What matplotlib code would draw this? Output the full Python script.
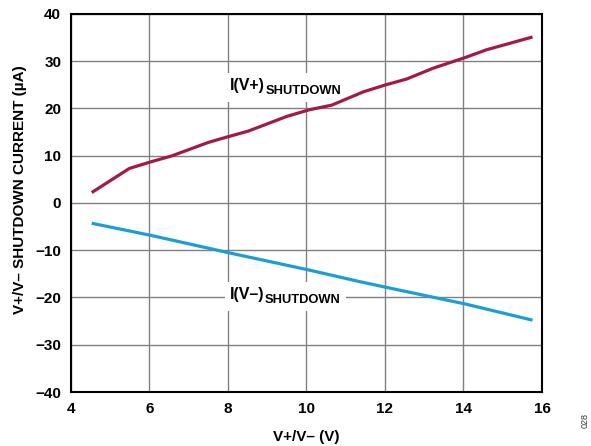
from matplotlib import pyplot as plt
from matplotlib.patches import Rectangle
from matplotlib.transforms import Bbox

plt.rcParams['font.family'] = ['Liberation Sans', 'DejaVu Sans']

# supply voltage (V) and shutdown currents (uA)
vpos_x = [4.53, 5.49, 6.06, 6.57, 7.5, 8.0, 8.52, 9.5, 10.07, 10.65, 11.45,
          12.03, 12.55, 13.23, 14.06, 14.59, 15.76]
vpos_i = [2.2, 7.3, 8.75, 9.95, 12.8, 14.0, 15.2, 18.3, 19.7, 20.7, 23.5,
          25.0, 26.2, 28.5, 30.8, 32.4, 35.1]

vneg_x = [4.53, 6.06, 8.0, 10.07, 11.36, 12.03, 14.06, 15.76]
vneg_i = [-4.3, -6.9, -10.5, -14.2, -16.65, -17.85, -21.4, -24.8]

xticks = [4, 6, 8, 10, 12, 14, 16]
yticks = [-40, -30, -20, -10, 0, 10, 20, 30, 40]

fig = plt.figure(figsize=(5.91, 4.46), dpi=100)
ax = fig.add_axes([0.120, 0.121, 0.797, 0.848])

# curves sit above the label boxes so they are never cut
ax.plot(vpos_x, vpos_i, color='#A31A45', linewidth=2.3, solid_capstyle='butt', zorder=4.5)
ax.plot(vneg_x, vneg_i, color='#1B9DD6', linewidth=2.3, solid_capstyle='butt', zorder=4.5)

ax.set_xlim(4, 16)
ax.set_ylim(-40, 40)
ax.set_xticks(xticks)
ax.set_yticks(yticks)
ax.grid(True, color='#808080', linewidth=1.0)
ax.set_axisbelow(True)
ax.tick_params(length=0, pad=7, labelsize=11)
for lab in ax.get_xticklabels() + ax.get_yticklabels():
    lab.set_fontweight('bold')
for s in ax.spines.values():
    s.set_linewidth(1.5)
    s.set_zorder(6)

ax.set_xlabel('V+/V– (V)', fontsize=11, fontweight='bold', labelpad=10)
ax.set_ylabel('V+/V– SHUTDOWN CURRENT (µA)', fontsize=11, fontweight='bold')
ax.yaxis.set_label_coords(-0.0934, 0.534)

# curve labels: main part plus a smaller subscript, on one white box
labels = []
for y, main in [(23.8, 'I(V+)'), (-20.4, 'I(V–)')]:
    t = ax.text(8.05, y, main, fontsize=11.5, fontweight='bold', ha='left',
                va='baseline', zorder=5)
    sub = ax.annotate('SHUTDOWN', xy=(1, 0), xycoords=t, xytext=(0.3, -0.2),
                      textcoords='offset points', fontsize=9.3, fontweight='bold',
                      ha='left', va='baseline', zorder=5)
    labels.append((t, sub))

fig.canvas.draw()
r = fig.canvas.get_renderer()
for t, sub in labels:
    bb = Bbox.union([t.get_window_extent(r), sub.get_window_extent(r)])
    bb = bb.padded(5)
    bb = bb.transformed(ax.transAxes.inverted())
    ax.add_patch(Rectangle((bb.x0, bb.y0), bb.width, bb.height, transform=ax.transAxes,
                           facecolor='white', edgecolor='none', zorder=4))

fig.text(0.99, 0.058, '028', rotation=90, fontsize=6.5, ha='center', va='center', color='#333333')

plt.savefig('out.png', dpi=100)
